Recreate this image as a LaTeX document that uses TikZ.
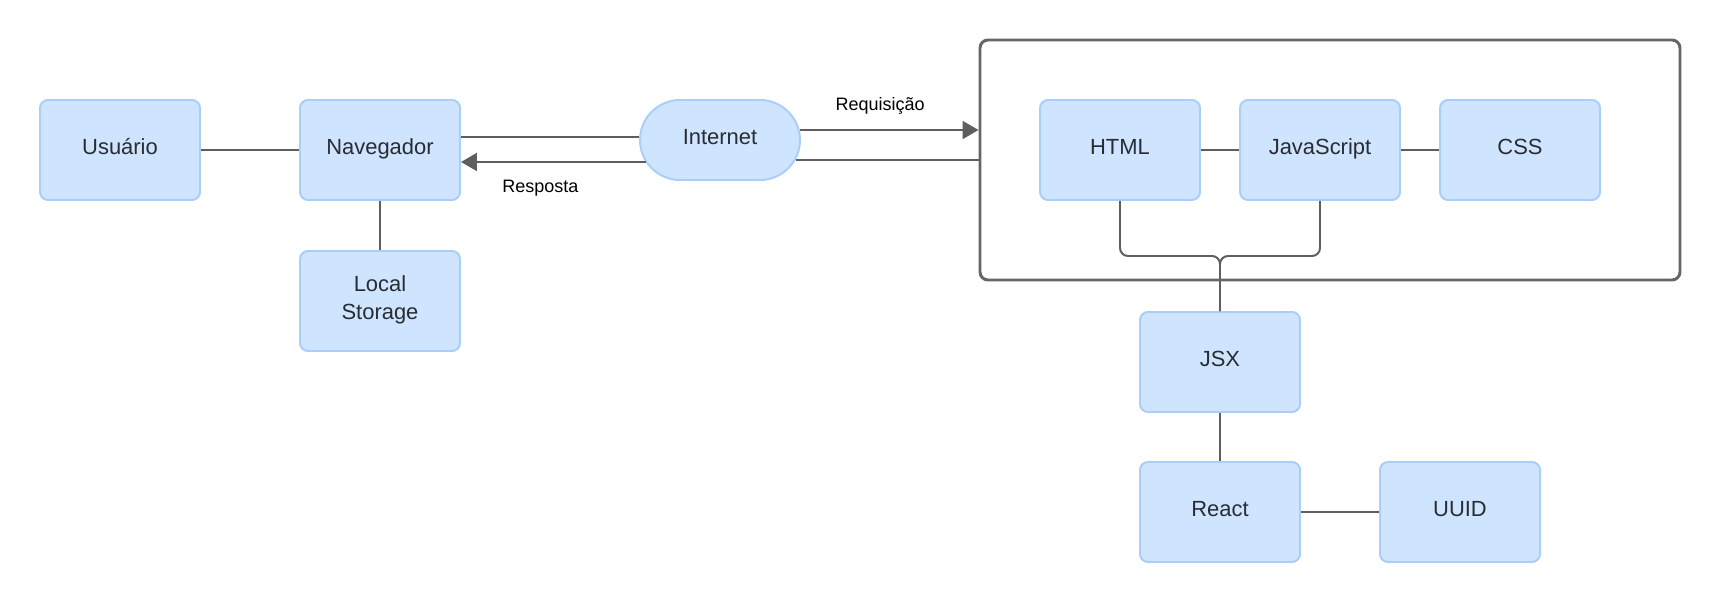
\documentclass[tikz,border=0pt]{standalone}
\usepackage{fontspec}
\setmainfont{Liberation Sans}
\usetikzlibrary{arrows.meta}

\definecolor{techfill}{RGB}{207,228,255}
\definecolor{techline}{RGB}{170,205,250}
\definecolor{linkcolor}{RGB}{94,94,94}
\definecolor{framecolor}{RGB}{102,102,102}
\definecolor{textcolor}{RGB}{40,44,51}

\newcommand\techfont{\fontsize{15.6}{20}\selectfont}
\newcommand\labelfont{\fontsize{12.8}{15}\selectfont}
\newcommand\techwidth{4cm}
\newcommand\techheight{2.5cm}

\tikzset{
  tech/.style={draw=techline, fill=techfill, line width=1.4pt, rounded corners=0.2cm,
    minimum width=\techwidth, minimum height=\techheight, align=center,
    text depth=0.16cm, text=textcolor, font=\techfont},
  cloud/.style={tech, rounded corners=1cm, minimum height=2cm},
  webframe/.style={draw=framecolor, line width=2.1pt, rounded corners=0.2cm,
    minimum width=17.5cm, minimum height=6cm},
  link/.style={draw=linkcolor, line width=1.4pt},
  flow/.style={link, -{Triangle[length=0.4cm, width=0.45cm]}},
  flowlabel/.style={font=\labelfont, text=black}
}

\begin{document}
\begin{tikzpicture}
    \useasboundingbox (0,0) rectangle (43,-15.075);
    % client side
    \node[tech] (usuario) at (3,-3.75) {Usuário};
    \node[tech] (navegador) at (9.5,-3.75) {Navegador};
    \node[tech] (storage) at (9.5,-7.525) {Local\\Storage};
    \node[cloud] (internet) at (18,-3.5) {Internet};
    % server side
    \node[webframe] (web) at (33.25,-4) {};
    \node[tech] (html) at (28,-3.75) {HTML};
    \node[tech] (js) at (33,-3.75) {JavaScript};
    \node[tech] (css) at (38,-3.75) {CSS};
    \node[tech] (jsx) at (30.5,-9.05) {JSX};
    \node[tech] (react) at (30.5,-12.8) {React};
    \node[tech] (uuid) at (36.5,-12.8) {UUID};
    \coordinate (fork) at (30.5,-6.4);

    \draw[link] (usuario) -- (navegador);
    \draw[link] (navegador) -- (storage);
    \draw[link] ([yshift=0.075cm]internet.west) -- ([yshift=0.075cm]internet.west -| navegador.east);
    \draw[flow] ([shift={(0.17,-0.55)}]internet.west) -- ([yshift=-0.55cm]internet.west -| navegador.east)
      node[flowlabel, pos=0.57, below=0.3cm] (resposta) {Resposta};
    \draw[flow] ([shift={(-0.03,0.25)}]internet.east) -- ([yshift=0.25cm]internet.east -| web.west)
      node[flowlabel, pos=0.45, above=0.25cm] (requisicao) {Requisição};
    \draw[link] ([shift={(-0.13,-0.5)}]internet.east) -- ([yshift=-0.5cm]internet.east -| web.west);
    \draw[link] (html) -- (js);
    \draw[link] (js) -- (css);
    \draw[link, rounded corners=0.2cm] (html.south) |- (fork) -- (jsx.north);
    \draw[link, rounded corners=0.2cm] (js.south) |- (fork) -- (jsx.north);
    \draw[link] (jsx) -- (react);
    \draw[link] (react) -- (uuid);
\end{tikzpicture}
\end{document}
